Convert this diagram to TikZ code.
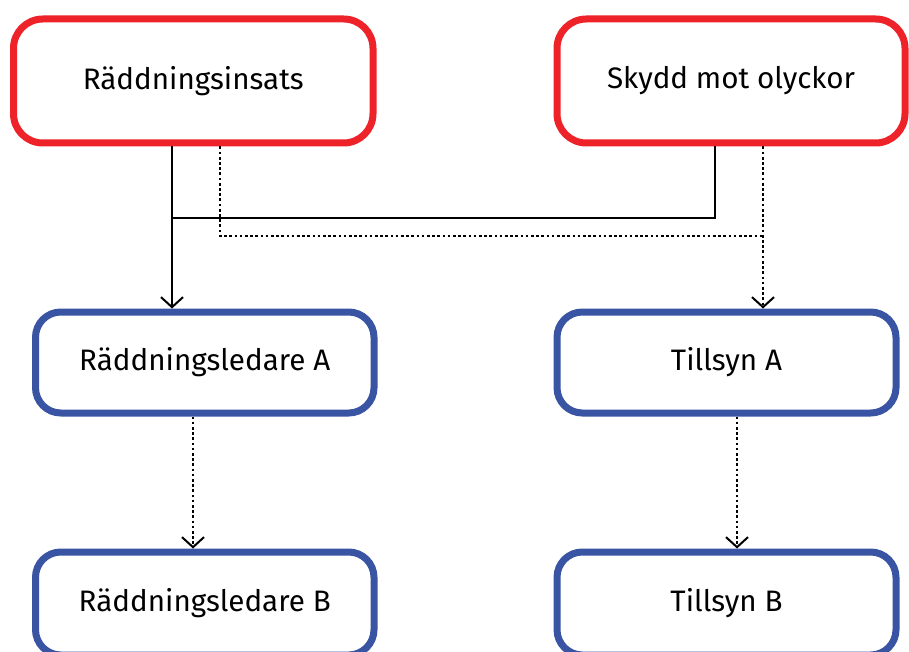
\documentclass[tikz,border=0pt]{standalone}
\usepackage{fontspec}
\setmainfont{Fira Sans}
\usetikzlibrary{arrows.meta}
\definecolor{boxred}{HTML}{EE2229}
\definecolor{boxblue}{HTML}{3A54A4}
\tikzset{
  topbox/.style={draw=boxred, line width=5.25pt, rounded corners=22pt, fill=white,
    inner sep=0pt, font=\fontsize{22.2}{26}\selectfont, align=center},
  lowbox/.style={draw=boxblue, line width=5.25pt, rounded corners=19pt, fill=white,
    inner sep=0pt, font=\fontsize{22.2}{26}\selectfont, align=center},
  solidline/.style={line width=1.6pt, draw=black},
  dotline/.style={line width=2pt, draw=black, dash pattern=on 2pt off 1.9pt},
  tip/.style={-{Straight Barb[length=7.5pt,width=16.5pt,line width=1.5pt]}}
}
\begin{document}
\begin{tikzpicture}[x=0.75pt,y=-0.75pt]
\useasboundingbox (0,0) rectangle (909,652);
% boxes
\node[topbox, minimum width={359.5*0.75pt}, minimum height={124*0.75pt}] (ri) at (193.25,81) {Räddningsinsats};
\node[topbox, minimum width={348*0.75pt}, minimum height={124*0.75pt}] (sk) at (731,81) {Skydd mot olyckor};
\node[lowbox, minimum width={338.5*0.75pt}, minimum height={101*0.75pt}] (rla) at (204.75,362.5) {Räddningsledare A};
\node[lowbox, minimum width={339*0.75pt}, minimum height={101*0.75pt}] (ta) at (726.5,362.5) {Tillsyn A};
\node[lowbox, minimum width={338.5*0.75pt}, minimum height={103*0.75pt}] (rlb) at (204.75,603.5) {Räddningsledare B};
\node[lowbox, minimum width={339*0.75pt}, minimum height={103*0.75pt}] (tb) at (726.5,603.5) {Tillsyn B};
% junction coordinates
\coordinate (ja) at (172,218);
\coordinate (jb) at (715,218);
\coordinate (da) at (220,236);
\coordinate (db) at (763,236);
% solid connectors
\draw[solidline, tip] (ri.south -| ja) -- (rla.north -| ja);
\draw[solidline] (sk.south -| jb) -- (jb) -- (ja);
% dotted connectors
\draw[dotline] (ri.south -| da) -- (da) -- (db);
\draw[dotline, tip] (sk.south -| db) -- (ta.north -| db);
\coordinate (la) at (193,0);
\coordinate (lb) at (737,0);
\draw[dotline, tip] (rla.south -| la) -- (rlb.north -| la);
\draw[dotline, tip] (ta.south -| lb) -- (tb.north -| lb);
\end{tikzpicture}
\end{document}
